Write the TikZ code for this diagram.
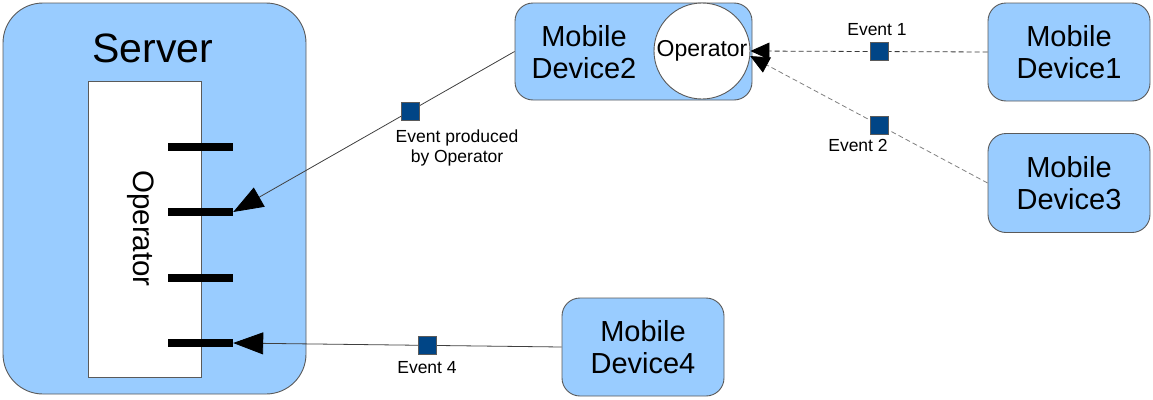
\documentclass[tikz,border=0pt]{standalone}
\usepackage{fontspec}
\setmainfont{Liberation Sans}
\usetikzlibrary{arrows.meta}
\definecolor{boxfill}{HTML}{99CCFF}
\definecolor{boxline}{HTML}{5A5A5A}
\definecolor{evblue}{HTML}{004586}
\definecolor{dashdark}{HTML}{3A3A3A}
\definecolor{dashlight}{HTML}{808080}

\begin{document}
\begin{tikzpicture}[x=1pt,y=-1pt,
  box/.style={draw=boxline, line width=0.9pt, fill=boxfill, rounded corners=#1, inner sep=0pt},
  devtext/.style={font=\fontsize{29}{32}\selectfont, align=center, inner sep=0pt},
  evtext/.style={font=\fontsize{17.5}{20}\selectfont, align=center, inner sep=0pt},
  bar/.style={fill=black, draw=none, minimum width=65pt, minimum height=8pt, inner sep=0pt},
  evsq/.style={fill=evblue, draw=boxline, solid, line width=0.6pt, minimum size=18pt, inner sep=0pt},
  flow/.style={draw=black!75, line width=0.8pt, -{Triangle[length=30pt,width=22pt,color=black,fill=black]}},
  dflow/.style={line width=0.8pt, dash pattern=on 5pt off 3pt, -{Triangle[length=19pt,width=17pt,color=black,fill=black]}},
]
\useasboundingbox (0,0) rectangle (1153,399);

% server with its operator
\node[box=40pt, minimum width=303pt, minimum height=391pt] (server) at (154.5,198.5) {};
\node[font=\fontsize{41}{48}\selectfont, inner sep=0pt] (srvlbl) at (153,48) {Server};
\node[draw=boxline, line width=0.8pt, fill=white, minimum width=113pt, minimum height=296pt, inner sep=0pt] (oprect) at (144.5,229) {};
\node[rotate=-90, font=\fontsize{29.5}{34}\selectfont, inner sep=0pt] (oplbl) at (141,228.5) {Operator};
\node[bar] (bar1) at (200.5,147) {};
\node[bar] (bar2) at (200.5,212) {};
\node[bar] (bar3) at (200.5,278) {};
\node[bar] (bar4) at (200.5,343) {};

% mobile devices
\node[box=18pt, minimum width=237pt, minimum height=97pt] (dev2) at (633.5,51.5) {};
\node[devtext] (dev2lbl) at (584,52) {Mobile\\Device2};
\node[draw=boxline, line width=0.9pt, fill=white, circle, minimum size=96pt, inner sep=0pt,
      font=\fontsize{23}{27}\selectfont] (op2) at (702,51) {Operator};
\node[box=18pt, minimum width=162pt, minimum height=98pt, devtext] (dev1) at (1069,52) {Mobile\\Device1};
\node[box=18pt, minimum width=162pt, minimum height=99pt, devtext] (dev3) at (1069,183) {Mobile\\Device3};
\node[box=18pt, minimum width=162pt, minimum height=98pt, devtext] (dev4) at (643,347) {Mobile\\Device4};

% events travelling along the connectors
\draw[flow] (dev2.west) -- node[evsq, pos=0.37] (ev0) {} (bar2.east);
\draw[flow] (dev4.west) -- node[evsq, pos=0.41] (ev4) {} (bar4.east);
\draw[dflow, draw=dashdark] (dev1.west) -- node[evsq, pos=0.458] (ev1) {} (op2.east);
\draw[dflow, draw=dashlight] (dev3.west) -- node[evsq, pos=0.458] (ev2) {} (op2.-6);

\node[evtext] (ev0lbl) at (457,148) {Event produced\\by Operator};
\node[evtext] (ev1lbl) at (877,30) {Event 1};
\node[evtext] (ev2lbl) at (858,145) {Event 2};
\node[evtext] (ev4lbl) at (427,368) {Event 4};
\end{tikzpicture}
\end{document}
